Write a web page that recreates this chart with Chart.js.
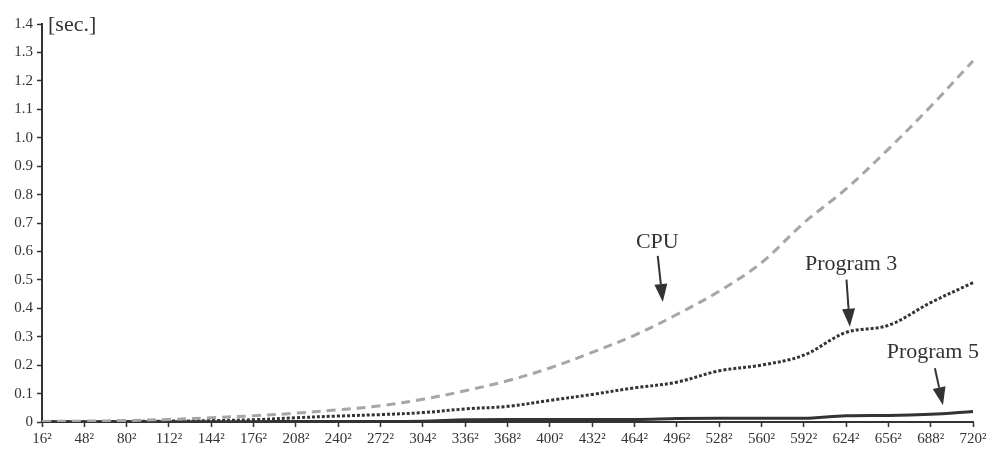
<!DOCTYPE html>
<html>
<head>
<meta charset="utf-8">
<script src="https://cdn.jsdelivr.net/npm/chart.js@4/dist/chart.umd.min.js"></script>
<style>
    html, body { margin: 0; padding: 0; background: #fff; }
    #wrap { width: 993px; height: 450px; }
</style>
</head>
<body>
<div id="wrap"><canvas id="timing-chart" width="993" height="450"></canvas></div>
<script>
// Problem sizes (N x N), one point per label
const sizes = [16, 48, 80, 112, 144, 176, 208, 240, 272, 304, 336, 368, 400, 432, 464, 496, 528, 560, 592, 624, 656, 688, 720];
const sizeLabels = sizes.map(n => n + '\u00B2');

// Run times in seconds
const cpuTimes = [0.002, 0.003, 0.005, 0.009, 0.015, 0.022, 0.031, 0.043, 0.057, 0.08, 0.11, 0.145, 0.19, 0.245, 0.305, 0.378, 0.46, 0.56, 0.70, 0.82, 0.96, 1.11, 1.27];
const program3Times = [0.001, 0.001, 0.002, 0.003, 0.005, 0.008, 0.015, 0.021, 0.026, 0.033, 0.046, 0.055, 0.076, 0.097, 0.12, 0.14, 0.18, 0.20, 0.235, 0.315, 0.34, 0.42, 0.49];
const program5Times = [0.001, 0.001, 0.001, 0.001, 0.001, 0.001, 0.002, 0.002, 0.002, 0.003, 0.008, 0.009, 0.009, 0.009, 0.009, 0.012, 0.013, 0.013, 0.013, 0.022, 0.023, 0.027, 0.037];

const yTicks = [0, 0.1, 0.2, 0.3, 0.4, 0.5, 0.6, 0.7, 0.8, 0.9, 1.0, 1.1, 1.2, 1.3, 1.4];

// Callouts: label text, text anchor and arrow tail/tip in data units (category index, seconds)
const callouts = [
    { text: 'CPU',       textAt: [14.54, 0.611], tail: [14.55, 0.584], tip: [14.67, 0.422] },
    { text: 'Program 3', textAt: [19.12, 0.534], tail: [19.01, 0.501], tip: [19.09, 0.335] },
    { text: 'Program 5', textAt: [21.05, 0.224], tail: [21.10, 0.189], tip: [21.29, 0.059] },
];

const ink = '#333333';
const serif = '"Liberation Serif", "Times New Roman", serif';

// Draws the "[sec.]" unit and the arrow callouts
const callout = {
    id: 'callout',
    afterDatasetsDraw(chart) {
        const { ctx, scales: { x, y }, chartArea } = chart;
        ctx.save();
        ctx.fillStyle = ink;
        ctx.font = '22px ' + serif;
        ctx.textAlign = 'left';
        ctx.textBaseline = 'alphabetic';
        ctx.fillText('[sec.]', chartArea.left + 6, y.getPixelForValue(1.4) + 7);

        callouts.forEach(c => {
            const tx = x.getPixelForValue(c.textAt[0]);
            const ty = y.getPixelForValue(c.textAt[1]);
            const ax = x.getPixelForValue(c.tail[0]);
            const ay = y.getPixelForValue(c.tail[1]);
            const bx = x.getPixelForValue(c.tip[0]);
            const by = y.getPixelForValue(c.tip[1]);

            ctx.textAlign = 'center';
            ctx.fillText(c.text, tx, ty);

            const ang = Math.atan2(by - ay, bx - ax);
            const headLen = 18, headHalf = 6.5;
            const baseX = bx - headLen * Math.cos(ang);
            const baseY = by - headLen * Math.sin(ang);

            ctx.strokeStyle = ink;
            ctx.lineWidth = 2;
            ctx.beginPath();
            ctx.moveTo(ax, ay);
            ctx.lineTo(baseX, baseY);
            ctx.stroke();

            ctx.beginPath();
            ctx.moveTo(bx, by);
            ctx.lineTo(baseX + headHalf * Math.sin(ang), baseY - headHalf * Math.cos(ang));
            ctx.lineTo(baseX - headHalf * Math.sin(ang), baseY + headHalf * Math.cos(ang));
            ctx.closePath();
            ctx.fill();
        });
        ctx.restore();
    }
};

const ctx = document.getElementById('timing-chart').getContext('2d');
const timingChart = new Chart(ctx, {
    type: 'line',
    data: {
        labels: sizeLabels,
        datasets: [
            {
                label: 'CPU',
                data: cpuTimes,
                borderColor: '#a6a6a6',
                borderWidth: 3,
                borderDash: [9, 6],
                tension: 0.35,
                pointRadius: 0,
                fill: false,
            },
            {
                label: 'Program 3',
                data: program3Times,
                borderColor: ink,
                borderWidth: 3,
                borderDash: [3, 2],
                tension: 0.35,
                pointRadius: 0,
                fill: false,
            },
            {
                label: 'Program 5',
                data: program5Times,
                borderColor: ink,
                borderWidth: 3,
                cubicInterpolationMode: 'monotone',
                pointRadius: 0,
                fill: false,
            },
        ],
    },
    options: {
        responsive: false,
        animation: false,
        layout: {
            padding: { top: 24, right: 20, left: 0, bottom: 0 },
        },
        plugins: {
            legend: { display: false },
            tooltip: { enabled: false },
        },
        scales: {
            x: {
                offset: false,
                afterFit: (scale) => { scale.height = 28; },
                grid: {
                    drawOnChartArea: false,
                    color: ink,
                    tickLength: 5,
                    tickWidth: 1.5,
                },
                border: { color: ink, width: 2 },
                ticks: {
                    autoSkip: false,
                    maxRotation: 0,
                    padding: 3,
                    color: ink,
                    font: { family: serif, size: 15 },
                },
            },
            y: {
                min: 0,
                max: 1.4,
                afterFit: (scale) => { scale.width = 42; },
                afterBuildTicks: (scale) => { scale.ticks = yTicks.map(v => ({ value: v })); },
                grid: {
                    drawOnChartArea: false,
                    color: ink,
                    tickLength: 5,
                    tickWidth: 1.5,
                },
                border: { color: ink, width: 2 },
                ticks: {
                    padding: 4,
                    color: ink,
                    font: { family: serif, size: 15 },
                    callback: (v) => v === 0 ? '0' : v.toFixed(1),
                },
            },
        },
    },
    plugins: [callout],
});
</script>
</body>
</html>
